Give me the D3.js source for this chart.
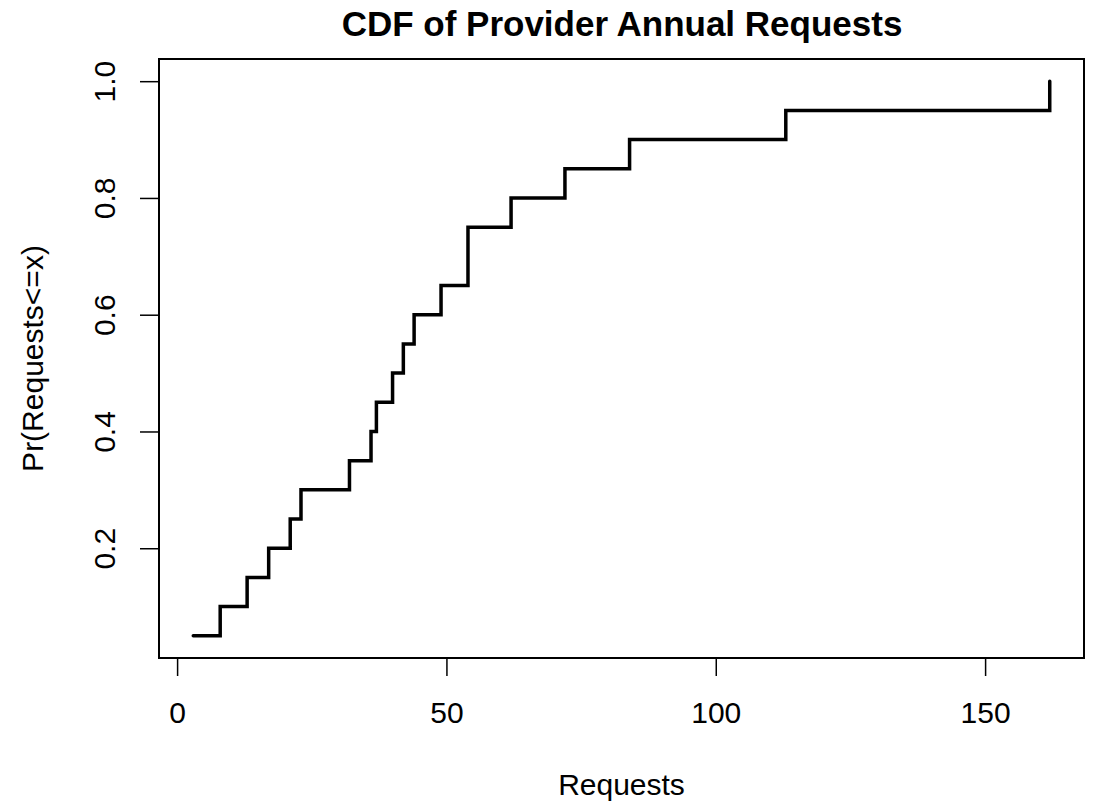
<!DOCTYPE html>
<html>
<head>
<meta charset="utf-8">
<title>CDF of Provider Annual Requests</title>
<script src="https://d3js.org/d3.v7.min.js"></script>
<style>
body { margin: 0; background: #fff; }
text { font-family: "Liberation Sans", Arial, sans-serif; fill: #000; }
</style>
</head>
<body>
<script>
// sorted requests per provider (20 providers)
const requests = [3, 8, 13, 17, 21, 23, 32, 36, 37, 40, 42, 44, 49, 54, 54, 62, 72, 84, 113, 162];
const xTicks = [0, 50, 100, 150];
const yTicks = [0.2, 0.4, 0.6, 0.8, 1.0];

const width = 1097, height = 802;
const mLeft = 159, mRight = 1084, mTop = 59, mBottom = 658;

// ecdf points, one per distinct value
const pts = [];
requests.forEach((v, i) => {
  const p = (i + 1) / requests.length;
  if (pts.length && pts[pts.length - 1][0] === v) pts[pts.length - 1][1] = p;
  else pts.push([v, p]);
});

// R style 4% padding
const xr = d3.extent(requests), yr = [pts[0][1], 1];
const xpad = (xr[1] - xr[0]) * 0.04, ypad = (yr[1] - yr[0]) * 0.04;
const x = d3.scaleLinear().domain([xr[0] - xpad, xr[1] + xpad]).range([mLeft, mRight]);
const y = d3.scaleLinear().domain([yr[0] - ypad, yr[1] + ypad]).range([mBottom, mTop]);

const svg = d3.select("body").append("svg").attr("width", width).attr("height", height);

svg.append("rect")
  .attr("x", mLeft).attr("y", mTop).attr("width", mRight - mLeft).attr("height", mBottom - mTop)
  .attr("fill", "none").attr("stroke", "#000").attr("stroke-width", 2);

const xAxis = svg.append("g").attr("transform", `translate(0,${mBottom})`)
  .call(d3.axisBottom(x).tickValues(xTicks).tickSize(18).tickPadding(0).tickFormat(d3.format("d")));
xAxis.select(".domain").attr("d", `M${x(0)},0H${x(150)}`).attr("stroke-width", 1.5);
xAxis.selectAll(".tick line").attr("stroke-width", 1.5);
xAxis.selectAll("text")
  .attr("font-size", 30).attr("font-family", "Liberation Sans, Arial, sans-serif")
  .attr("y", 65).attr("dy", 0);

const yAxis = svg.append("g").attr("transform", `translate(${mLeft},0)`)
  .call(d3.axisLeft(y).tickValues(yTicks).tickSize(19).tickFormat(d3.format(".1f")));
yAxis.select(".domain").remove();
yAxis.selectAll(".tick line").attr("stroke-width", 1.5);
yAxis.selectAll("text")
  .attr("font-size", 30).attr("font-family", "Liberation Sans, Arial, sans-serif")
  .attr("x", 0).attr("dy", 0)
  .attr("text-anchor", "middle")
  .attr("transform", "translate(-44,0) rotate(-90)");

svg.append("path")
  .datum(pts)
  .attr("d", d3.line().x(d => x(d[0])).y(d => y(d[1])).curve(d3.curveStepAfter))
  .attr("fill", "none").attr("stroke", "#000").attr("stroke-width", 3.5)
  .attr("stroke-linecap", "round");

svg.append("text").attr("x", 622).attr("y", 36)
  .attr("text-anchor", "middle").attr("font-size", 35).attr("font-weight", "bold")
  .text("CDF of Provider Annual Requests");

svg.append("text").attr("x", (mLeft + mRight) / 2).attr("y", 795)
  .attr("text-anchor", "middle").attr("font-size", 30).text("Requests");

svg.append("text").attr("transform", `translate(43,${(mTop + mBottom) / 2}) rotate(-90)`)
  .attr("text-anchor", "middle").attr("font-size", 30).text("Pr(Requests<=x)");
</script>
</body>
</html>
